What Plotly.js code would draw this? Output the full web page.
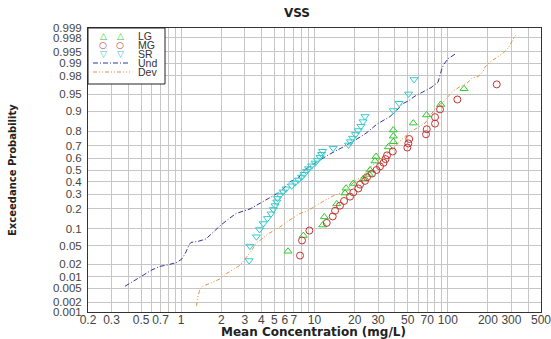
<!DOCTYPE html>
<html><head><meta charset="utf-8">
<script src="https://cdn.plot.ly/plotly-3.0.1.min.js"></script>
<style>html,body{margin:0;padding:0;background:#fff;}#chart{width:551px;height:339px;}</style>
</head><body><div id="chart"></div>
<script>
// ---- data (concentration mg/L, probability) ----
const undX = [0.379,0.491,0.604,0.694,0.797,0.930,1.014,1.087,1.145,1.185,1.337,1.535,1.645,1.794,1.955,2.170,2.578,3.283,3.705,4.04,4.64,5.33,5.71,6.55,7.52,8.20,8.79,10.44,12.64,16.37,18.47,21.21,24.77,29.44,36.87,41.6,45.4,50.3,56.8,65.2,74.8,84.5,87.4,90.5,93.7,100.4,113.3];
const undP = [0.0057,0.0100,0.0149,0.0180,0.0195,0.0222,0.0265,0.0373,0.0516,0.0575,0.0601,0.0668,0.0789,0.0961,0.1119,0.1338,0.172,0.1982,0.2233,0.2432,0.2693,0.3085,0.3318,0.3997,0.4286,0.4829,0.5148,0.5714,0.6278,0.6915,0.7190,0.7545,0.7924,0.8413,0.8775,0.9039,0.9244,0.9332,0.9462,0.9551,0.9635,0.9721,0.9805,0.9867,0.9894,0.9923,0.99415];
const devX = [1.303,1.326,1.384,1.458,1.645,1.955,2.170,2.448,2.763,3.064,3.399,3.641,4.04,4.48,5.51,6.55,7.79,8.79,10.09,11.59,13.77,16.37,18.47,20.49,22.73,25.2,29.44,35.0,38.2,43.8,52.1,57.8,67.5,73.5,83.0,92.1,98.7,109.4,123.5,139.4,152.0,168.5,180.6,190.2,207.4,234.0,259.6,283.0,303.3,325.0];
const devP = [0.00155,0.0027,0.00485,0.00585,0.0068,0.0089,0.0119,0.0149,0.0190,0.0279,0.0410,0.0563,0.0668,0.0822,0.1077,0.1386,0.172,0.1864,0.2169,0.2467,0.2861,0.3164,0.3639,0.4141,0.4396,0.5044,0.5777,0.6361,0.6682,0.7357,0.7955,0.8165,0.8465,0.8797,0.9178,0.9302,0.9412,0.9570,0.9652,0.9707,0.9772,0.9790,0.9825,0.9874,0.9906,0.9930,0.9945,0.9960,0.99748,0.99845];
const lgX = [6.33,8.25,11.53,11.85,14.68,16.94,17.24,19.55,23.25,25.78,26.09,28.44,28.94,35.8,39.0,39.0,39.0,55.1,69.3,88.5,132.3];
const lgP = [0.0385,0.0769,0.1154,0.1538,0.2308,0.3077,0.3462,0.3846,0.4231,0.4615,0.5,0.5769,0.6154,0.6923,0.7308,0.7692,0.8077,0.8462,0.8846,0.9231,0.9615];
const mgX = [7.79,8.06,9.15,12.35,13.70,14.26,15.54,16.65,18.47,19.55,21.32,21.95,23.93,24.77,27.01,29.19,31.0,32.95,34.11,35.0,38.63,49.7,50.6,51.4,68.6,69.5,80.2,80.2,87.4,117.9,232.8];
const mgP = [0.0313,0.0625,0.0938,0.125,0.1563,0.1875,0.2188,0.25,0.2813,0.3125,0.3438,0.375,0.4063,0.4375,0.4688,0.5,0.5313,0.5625,0.5938,0.625,0.6563,0.6875,0.7188,0.75,0.7813,0.8125,0.8438,0.875,0.9063,0.9375,0.9688];
const srX = [3.23,3.28,3.67,3.87,4.13,4.44,4.72,4.91,5.06,5.21,5.28,5.51,5.81,6.12,6.75,7.14,7.56,7.99,8.35,8.72,9.02,9.53,10.1,10.5,11.0,11.3,11.5,13.8,18.0,18.6,19.3,20.3,21.3,22.3,23.1,23.9,39.0,43.1,50.8,55.8];
const srP = [0.0244,0.0488,0.0732,0.0976,0.1220,0.1463,0.1707,0.1951,0.2195,0.2439,0.2683,0.2927,0.3171,0.3415,0.3659,0.3902,0.4146,0.4390,0.4634,0.4878,0.5122,0.5366,0.5610,0.5854,0.6098,0.6341,0.6585,0.6829,0.7073,0.7317,0.7561,0.7805,0.8049,0.8293,0.8537,0.8780,0.9024,0.9268,0.9512,0.9756];

const yTickP = [0.001,0.002,0.005,0.01,0.02,0.05,0.1,0.2,0.3,0.4,0.5,0.6,0.7,0.8,0.9,0.95,0.98,0.99,0.995,0.998,0.999];
const yTickText = ['0.001','0.002','0.005','0.01','0.02','0.05','0.1','0.2','0.3','0.4','0.5','0.6','0.7','0.8','0.9','0.95','0.98','0.99','0.995','0.998','0.999'];
const xTickVals = [0.2,0.3,0.5,0.7,1,2,3,4,5,6,7,10,20,30,50,70,100,200,300,500];
const xTickText = ['0.2','0.3','0.5','0.7','1','2','3','4','5','6','7','10','20','30','50','70','100','200','300','500'];
const xMinorVals = [0.4,0.6,0.8,0.9,8,9,40,60,80,90,400];
const legendNames = ['LG','MG','SR','Und','Dev'];

// ---- normal probability scale (inverse normal CDF) ----
function probit(p){
  const a=[-3.969683028665376e+01,2.209460984245205e+02,-2.759285104469687e+02,1.383577518672690e+02,-3.066479806614716e+01,2.506628277459239e+00];
  const b=[-5.447609879822406e+01,1.615858368580409e+02,-1.556989798598866e+02,6.680131188771972e+01,-1.328068155288572e+01];
  const c=[-7.784894002430293e-03,-3.223964580411365e-01,-2.400758277161838e+00,-2.549671010229583e+00,4.374587810455688e+00,2.938163982698783e+00];
  const d=[7.784695709041462e-03,3.224671290700398e-01,2.445134137142996e+00,3.754408661907416e+00];
  const pl=0.02425, ph=1-pl; let q,r;
  if(p<pl){q=Math.sqrt(-2*Math.log(p));return (((((c[0]*q+c[1])*q+c[2])*q+c[3])*q+c[4])*q+c[5])/((((d[0]*q+d[1])*q+d[2])*q+d[3])*q+1);}
  if(p>ph){q=Math.sqrt(-2*Math.log(1-p));return -(((((c[0]*q+c[1])*q+c[2])*q+c[3])*q+c[4])*q+c[5])/((((d[0]*q+d[1])*q+d[2])*q+d[3])*q+1);}
  q=p-0.5;r=q*q;return (((((a[0]*r+a[1])*r+a[2])*r+a[3])*r+a[4])*r+a[5])*q/(((((b[0]*r+b[1])*r+b[2])*r+b[3])*r+b[4])*r+1);
}
const Z = arr => arr.map(probit);

const COL = {LG:'#2ecc2e', MG:'#c83232', SR:'#33cccc', Und:'#34349c', Dev:'#e5913c'};
const DASH = {Und:'5px,2px,1px,2px', Dev:'4px,2px,1px,2px,1px,2px'};

const traces = [
  {x:undX, y:Z(undP), mode:'lines', name:'Und', line:{color:COL.Und, width:1, dash:DASH.Und}},
  {x:devX, y:Z(devP), mode:'lines', name:'Dev', line:{color:COL.Dev, width:1, dash:DASH.Dev}},
  {x:lgX, y:Z(lgP), mode:'markers', name:'LG', marker:{symbol:'triangle-up-open', size:7, color:COL.LG, line:{width:1}}},
  {x:mgX, y:Z(mgP), mode:'markers', name:'MG', marker:{symbol:'circle-open', size:7, color:COL.MG, line:{width:1}}},
  {x:srX, y:Z(srP), mode:'markers', name:'SR', marker:{symbol:'triangle-down-open', size:7, color:COL.SR, line:{width:1}}}
];

// layout helpers: pixel -> paper
const L=88, R=541, T=28, B=312;
const PX = x => (x-L)/(R-L), PY = y => (B-y)/(B-T);

const GRID = '#c6c6c6';
const xTickFont = {family:'Liberation Sans, Arial, sans-serif', size:12, color:'#444'};
const yTickFont = {family:'Liberation Sans, Arial, sans-serif', size:11.5, color:'#444'};

const shapes = [
  {type:'rect', xref:'paper', yref:'paper', x0:PX(88), x1:PX(165), y0:PY(84), y1:PY(28), fillcolor:'#fff', line:{color:'#222', width:1}, layer:'above'}
];
const annotations = [
  {text:'<b>Exceedance Probability</b>', xref:'paper', yref:'paper', x:PX(12), y:0.5, textangle:-90, showarrow:false, xanchor:'center', yanchor:'middle', font:{family:'DejaVu Sans, Verdana, sans-serif', size:10, color:'#222'}},
  {text:'<b>Mean Concentration (mg/L)</b>', xref:'paper', yref:'paper', x:PX(313), y:PY(332), showarrow:false, xanchor:'center', yanchor:'middle', font:{family:'DejaVu Sans, Verdana, sans-serif', size:12, color:'#222'}}
];
const rowY = [36,45,54,63,72];
const glyph = {LG:'\u25B3', MG:'\u25CB', SR:'\u25BD'};
legendNames.forEach((nm,i)=>{
  const y = PY(rowY[i]);
  if (glyph[nm]) {
    [103,120].forEach(gx=>annotations.push({text:glyph[nm], xref:'paper', yref:'paper', x:PX(gx), y:y, showarrow:false, xanchor:'center', yanchor:'middle', font:{family:'DejaVu Sans', size:9, color:COL[nm]}}));
  } else {
    shapes.push({type:'line', xref:'paper', yref:'paper', x0:PX(93), x1:PX(130), y0:y, y1:y, line:{color:COL[nm], width:1, dash:DASH[nm]}, layer:'above'});
  }
  annotations.push({text:nm, xref:'paper', yref:'paper', x:PX(136), y:y, showarrow:false, xanchor:'left', yanchor:'middle', font:{family:'Liberation Sans, Arial, sans-serif', size:10.5, color:'#333'}});
});

const layout = {
  width:551, height:339,
  margin:{l:88, r:10, t:28, b:27, pad:0},
  paper_bgcolor:'#fff', plot_bgcolor:'#fff',
  showlegend:false,
  title:{text:'<b>VSS</b>', font:{family:'DejaVu Sans, Verdana, sans-serif', size:12, color:'#222'}, x:297/551, xref:'container', xanchor:'center', y:1-13/339, yref:'container', yanchor:'middle'},
  xaxis:{type:'log', range:[Math.log10(0.2)-1e-5, Math.log10(500)+1e-5], tickmode:'array', tickvals:xTickVals, ticktext:xTickText, tickangle:0,
    ticklabeloverflow:'allow',
    showgrid:true, gridcolor:GRID, gridwidth:1, ticks:'', ticklabelstandoff:-3, tickfont:xTickFont,
    showline:true, mirror:true, linecolor:'#333', linewidth:1, zeroline:false,
    minor:{tickmode:'array', tickvals:xMinorVals, showgrid:true, gridcolor:GRID, gridwidth:1, ticks:''}},
  yaxis:{range:[probit(0.001)-1e-5, probit(0.999)+1e-5], tickmode:'array', tickvals:Z(yTickP), ticktext:yTickText, tickangle:0,
    ticklabeloverflow:'allow',
    showgrid:true, gridcolor:GRID, gridwidth:1, ticks:'outside', ticklen:3, tickcolor:'rgba(0,0,0,0)', tickfont:yTickFont,
    showline:true, mirror:true, linecolor:'#333', linewidth:1, zeroline:false},
  shapes:shapes, annotations:annotations
};

Plotly.newPlot('chart', traces, layout, {displayModeBar:false, staticPlot:true});
</script></body></html>
